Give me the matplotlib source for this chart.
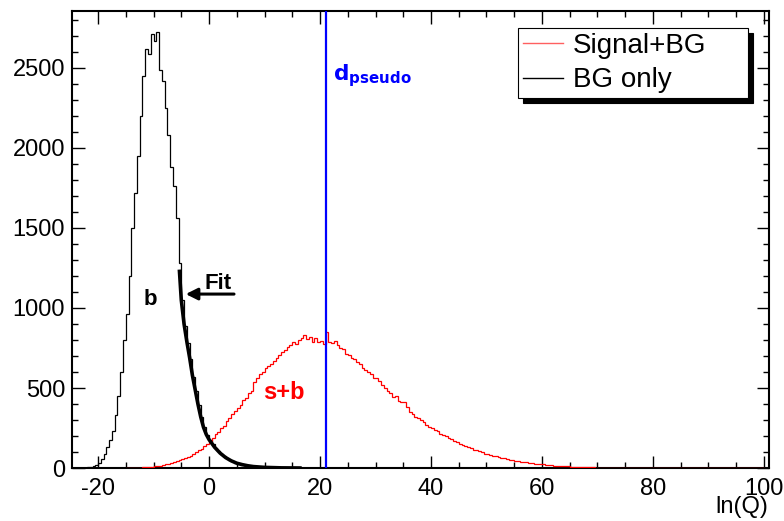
import matplotlib
matplotlib.use("Agg")
import matplotlib.pyplot as plt
import numpy as np
from matplotlib.ticker import MultipleLocator

plt.rcParams["font.family"] = ["Liberation Sans", "DejaVu Sans"]
plt.rcParams["axes.unicode_minus"] = False

# ------------------------------------------------------------
# Data
# ------------------------------------------------------------

# BG only histogram, bins of 0.5 starting at -23
BG_START = -23.0
BG_WIDTH = 0.5
BG_COUNTS = [
    1, 2, 4, 6, 10, 18, 30, 55, 90, 130,
    175, 230, 330, 450, 600, 800, 960, 1200, 1500, 1720,
    1950, 2200, 2450, 2620, 2590, 2710, 2670, 2725, 2490, 2420,
    2250, 2080, 1880, 1760, 1560, 1280, 1050, 890, 780, 680,
    570, 480, 395, 320, 255, 205, 175, 150, 125, 108,
    90, 75, 62, 50, 42, 34, 27, 21, 17, 13,
    10, 8, 6, 4, 3, 3, 2, 2, 1, 1,
    1, 1, 0, 1, 0, 0, 0, 0, 0, 0,
]

# Signal+BG histogram, bins of 0.5 starting at -15
SB_START = -15.0
SB_WIDTH = 0.5
SB_COUNTS = [
    0, 1, 1, 2, 2, 3, 4, 5, 6, 8,
    10, 12, 15, 18, 22, 26, 31, 36, 42, 47,
    55, 60, 70, 78, 88, 97, 110, 118, 135, 150,
    168, 185, 210, 225, 248, 262, 295, 310, 340, 355,
    375, 392, 425, 440, 468, 480, 535, 560, 590, 600,
    625, 640, 648, 668, 690, 705, 725, 740, 755, 770,
    790, 775, 800, 812, 830, 805, 820, 790, 815, 785,
    795, 775, 852, 790, 780, 795, 770, 750, 745, 715,
    705, 690, 680, 660, 650, 625, 610, 600, 590, 560,
    560, 545, 520, 500, 480, 470, 445, 450, 420, 410,
    410, 380, 350, 340, 320, 310, 300, 285, 270, 258,
    250, 238, 230, 215, 205, 200, 190, 180, 170, 160,
    150, 145, 135, 130, 125, 115, 110, 104, 98, 90,
    85, 80, 75, 72, 68, 63, 60, 56, 52, 48,
    45, 42, 40, 37, 35, 32, 30, 28, 26, 24,
    22, 20, 18, 16, 15, 14, 13, 12, 11, 10,
    9, 8, 8, 7, 6, 5, 5, 4, 4, 3,
    3, 2, 2, 2, 2, 1, 1, 1, 1, 0,
    1, 0, 1, 0, 0, 1, 0, 0, 0, 0,
    0, 0, 0, 0, 0, 0, 0, 0, 0, 0,
    0, 0, 0, 0, 0, 0, 0, 0, 0, 0,
    0, 0, 0, 0, 0, 0, 0, 0, 0, 0,
    0, 0, 0, 0, 0, 0, 0, 0, 0, 0,
]

# Fit to the BG tail
FIT_X = [-5.35, -5.0, -4.5, -4.0, -3.5, -3.0, -2.5, -2.0, -1.5, -1.0,
         -0.5, 0.0, 1.0, 2.0, 3.0, 4.0, 5.0, 6.0, 7.0, 8.0,
         10.0, 13.0, 16.7]
FIT_Y = [1240, 1050, 900, 790, 690, 580, 490, 400, 320, 255,
         210, 178, 130, 93, 65, 45, 30, 21, 14, 9,
         4, 1, 0]

D_PSEUDO = 21.1

X_LIMITS = (-24.7, 100.9)
Y_LIMITS = (0, 2856)

# ------------------------------------------------------------
# Plot
# ------------------------------------------------------------

fig = plt.figure(figsize=(7.84, 5.21), dpi=100)
ax = fig.add_axes([0.0918, 0.1017, 0.8890, 0.8772])

bg_edges = BG_START + BG_WIDTH * np.arange(len(BG_COUNTS) + 1)
sb_edges = SB_START + SB_WIDTH * np.arange(len(SB_COUNTS) + 1)

ax.stairs(SB_COUNTS, sb_edges, color="#ff0000", linewidth=0.9,
          label="Signal+BG", zorder=3)
ax.stairs(BG_COUNTS, bg_edges, color="black", linewidth=0.9,
          label="BG only", zorder=2)

ax.plot(FIT_X, FIT_Y, color="black", linewidth=2.6, zorder=4,
        solid_capstyle="butt")

ax.axvline(D_PSEUDO, color="#0000ff", linewidth=1.6, zorder=5)

# Annotations
ax.text(D_PSEUDO + 1.3, 2450, r"$\mathbf{d}_{\mathbf{pseudo}}$",
        color="#0000ff", fontsize=15.5, ha="left", va="center")
ax.text(-10.6, 1050, "b", color="black", fontsize=16,
        fontweight="bold", ha="center", va="center")
ax.text(1.7, 1150, "Fit", color="black", fontsize=16,
        fontweight="bold", ha="center", va="center")
ax.annotate("", xy=(-4.2, 1087), xytext=(4.5, 1087),
            arrowprops=dict(arrowstyle="-|>,head_length=0.7,head_width=0.35",
                            color="black", linewidth=2.2,
                            shrinkA=0, shrinkB=0))
ax.text(13.5, 470, "s+b", color="#ff0000", fontsize=17,
        fontweight="bold", ha="center", va="center")

ax.set_xlim(X_LIMITS)
ax.set_ylim(Y_LIMITS)

ax.xaxis.set_major_locator(MultipleLocator(20))
ax.xaxis.set_minor_locator(MultipleLocator(5))
ax.yaxis.set_major_locator(MultipleLocator(500))
ax.yaxis.set_minor_locator(MultipleLocator(100))

ax.tick_params(which="both", direction="in", top=True, right=True,
               labelsize=17, width=1.0)
ax.tick_params(which="major", length=9)
ax.tick_params(which="minor", length=4.5)
ax.tick_params(axis="x", pad=7)
ax.tick_params(axis="y", pad=5)

for spine in ax.spines.values():
    spine.set_linewidth(1.5)

fig.text(0.980, 0.005, "ln(Q)", fontsize=17, ha="right", va="bottom")

leg = ax.legend(loc="upper left", bbox_to_anchor=(0.640, 0.963, 0.330, 0.0),
                mode="expand", fontsize=20, frameon=True, fancybox=False,
                framealpha=1, edgecolor="black", borderpad=0.18,
                handlelength=1.45, handletextpad=0.35, labelspacing=0.3,
                borderaxespad=0,
                shadow={"ox": 3.6, "oy": -3.6, "facecolor": "black",
                        "edgecolor": "black", "alpha": 1})
leg.get_frame().set_linewidth(0.8)
for line in leg.get_lines():
    line.set_linewidth(1.0)
leg.get_lines()[0].set_color("#ff6060")

fig.savefig("out.png", dpi=100)
